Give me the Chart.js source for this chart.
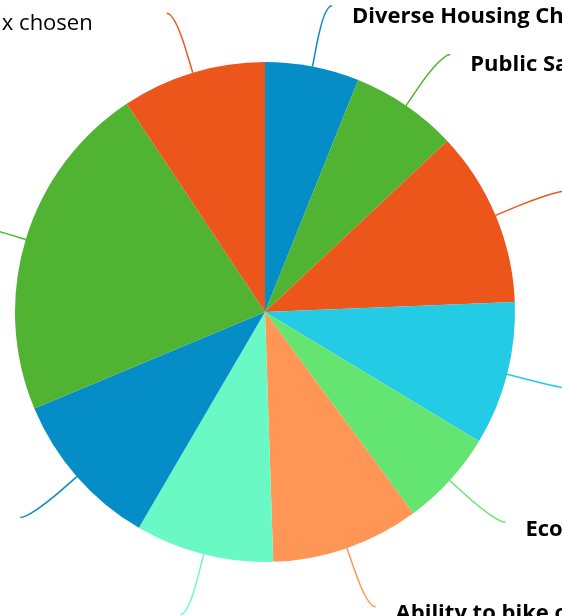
<!DOCTYPE html>
<html>
<head>
<meta charset="utf-8">
<script src="https://cdn.jsdelivr.net/npm/chart.js@4.4.1/dist/chart.umd.min.js"></script>
<style>
	html, body { margin: 0; padding: 0; background: #ffffff; overflow: hidden; }
	#wrap { width: 562px; height: 616px; position: relative; }
</style>
</head>
<body>
<div id="wrap"><canvas id="pieChart"></canvas></div>
<script>
// Pie data - share of responses per factor
const categories = [
	"Diverse Housing Choices",
	"Public Safety",
	"Parks and Open Space",
	"Quality Schools",
	"Economic Development",
	"Ability to bike or walk",
	"Access to Transit",
	"Shopping and Dining",
	"Sense of Community",
	"None of the six chosen",
];
const values = [6.08, 6.92, 11.36, 9.28, 6.25, 9.58, 8.94, 10.28, 21.97, 9.33];

// Old Highcharts-like palette, yellows left out
const palette = ["#058DC7", "#50B432", "#ED561B", "#24CBE5", "#64E572", "#FF9655", "#6AF9C4"];
const sliceColors = categories.map((_, i) => palette[i % palette.length]);

// Outside labels with soft connector lines
const pieLabels = {
	id: "pieLabels",
	afterDatasetsDraw(chart) {
		const ctx = chart.ctx;
		const arcs = chart.getDatasetMeta(0).data;
		arcs.forEach((arc, i) => {
			const { x, y, startAngle, endAngle, outerRadius } = arc.getProps(
				["x", "y", "startAngle", "endAngle", "outerRadius"],
				true,
			);
			const mid = (startAngle + endAngle) / 2;
			const cos = Math.cos(mid);
			const sin = Math.sin(mid);
			const right = cos >= 0;
			const side = right ? 1 : -1;
			const touch = { x: x + cos * outerRadius, y: y + sin * outerRadius };
			const brk = { x: x + cos * (outerRadius + 22), y: y + sin * (outerRadius + 22) };
			const end = {
				x: x + cos * (outerRadius + 66) + side * 7,
				y: y + sin * (outerRadius + 62),
			};

			ctx.save();
			ctx.strokeStyle = sliceColors[i];
			ctx.lineWidth = 1.5;
			ctx.beginPath();
			ctx.moveTo(end.x, end.y);
			ctx.bezierCurveTo(
				end.x - side * 6,
				end.y,
				2 * brk.x - touch.x,
				2 * brk.y - touch.y,
				brk.x,
				brk.y,
			);
			ctx.lineTo(touch.x, touch.y);
			ctx.stroke();

			ctx.fillStyle = "#000000";
			ctx.textBaseline = "alphabetic";
			if (right) {
				ctx.font = "bold 22px 'Open Sans', sans-serif";
				ctx.textAlign = "left";
				ctx.fillText(categories[i], end.x + 20, end.y + 15 - 2 * sin);
			} else {
				ctx.font = "22px 'Open Sans', sans-serif";
				ctx.textAlign = "right";
				ctx.fillText(categories[i], end.x - 74, end.y + 17 + 5 * Math.max(0, sin));
			}
			ctx.restore();
		});
	},
};

new Chart(document.getElementById("pieChart"), {
	type: "pie",
	data: {
		labels: categories,
		datasets: [
			{
				data: values,
				backgroundColor: sliceColors,
				borderWidth: 0,
				hoverOffset: 0,
			},
		],
	},
	options: {
		responsive: true,
		maintainAspectRatio: false,
		animation: false,
		layout: {
			padding: { left: 15, right: 47, top: 62, bottom: 54 },
		},
		plugins: {
			legend: { display: false },
			tooltip: { enabled: false },
		},
	},
	plugins: [pieLabels],
});
</script>
</body>
</html>
